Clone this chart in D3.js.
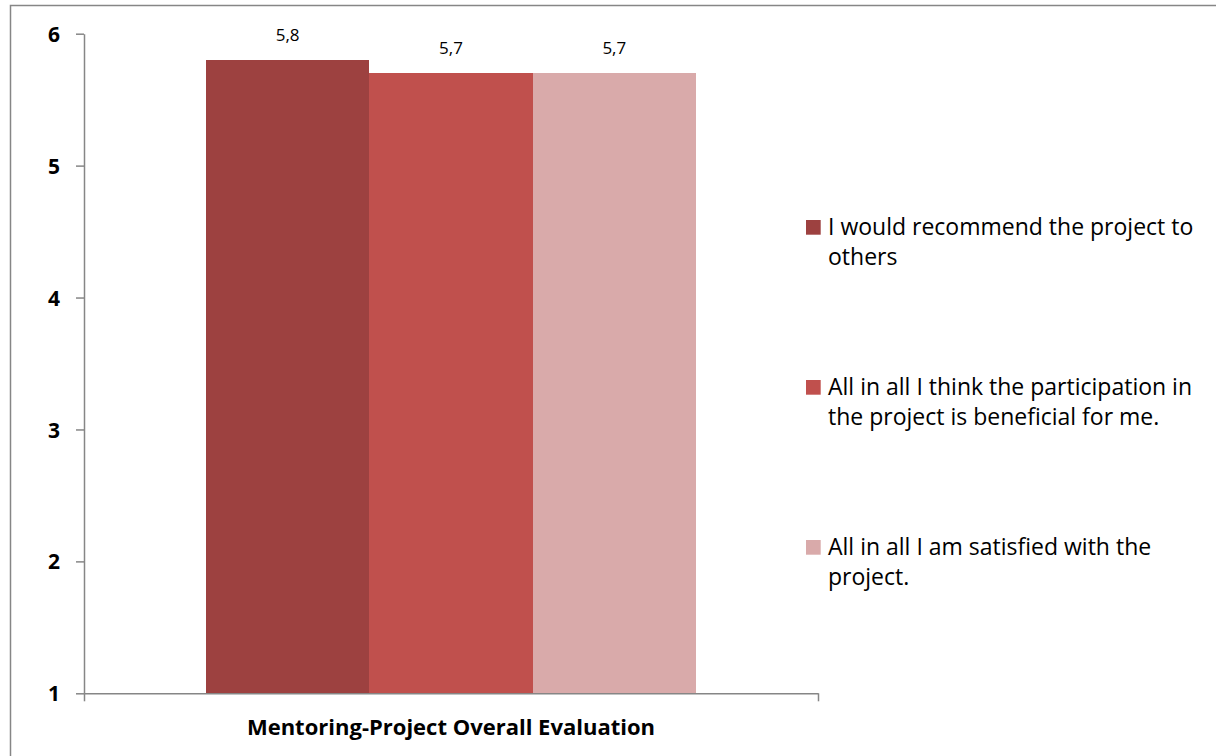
<!DOCTYPE html>
<html>
<head>
<meta charset="utf-8">
<script src="https://cdn.jsdelivr.net/npm/d3@7"></script>
<style>
  html, body { margin: 0; padding: 0; background: #fff; }
  svg { display: block; font-family: "Open Sans", "Noto Sans", sans-serif; }
</style>
</head>
<body>
<svg id="chart" width="1216" height="756"></svg>
<script>
// data
const category = "Mentoring-Project Overall Evaluation";
const seriesNames = [
  "I would recommend the project to others",
  "All in all I think the participation in the project is beneficial for me.",
  "All in all I am satisfied with the project."
];
const seriesValues = [5.8, 5.7, 5.7];
const seriesColors = ["#9D4140", "#C0504D", "#D9AAAA"];
const yTicks = [1, 2, 3, 4, 5, 6];

const svg = d3.select("#chart");
const axisColor = "#868686";

// outer chart border (right and bottom edges fall off the picture)
svg.append("rect")
  .attr("x", 10.5).attr("y", 5.5)
  .attr("width", 1230).attr("height", 770)
  .attr("fill", "none")
  .attr("stroke", axisColor)
  .attr("stroke-width", 1.5);

const plot = { left: 84, right: 818, top: 33.7, bottom: 693.3 };

const y = d3.scaleLinear().domain([1, 6]).range([plot.bottom, plot.top]);
const x0 = d3.scaleBand()
  .domain([category])
  .range([plot.left, plot.right])
  .paddingInner(0)
  .paddingOuter(0.249);
const x1 = d3.scaleBand()
  .domain(d3.range(seriesValues.length))
  .range([0, x0.bandwidth()])
  .padding(0);

// bars
const bars = svg.append("g")
  .attr("transform", `translate(${x0(category)},0)`);

bars.selectAll("rect")
  .data(seriesValues)
  .join("rect")
  .attr("x", (d, i) => Math.round(x0(category) + x1(i)) - x0(category))
  .attr("y", (d) => y(d))
  .attr("width", (d, i) => Math.round(x0(category) + x1(i) + x1.bandwidth()) - Math.round(x0(category) + x1(i)))
  .attr("height", (d) => y(1) - y(d))
  .attr("fill", (d, i) => seriesColors[i])
  .attr("shape-rendering", "crispEdges");

bars.selectAll("text")
  .data(seriesValues)
  .join("text")
  .attr("x", (d, i) => x1(i) + x1.bandwidth() / 2)
  .attr("y", (d) => y(d) - 19)
  .attr("text-anchor", "middle")
  .attr("font-size", 17)
  .attr("fill", "#000")
  .text((d) => d3.format(".1f")(d).replace(".", ","));

// y axis
const yAxis = svg.append("g")
  .attr("transform", `translate(${plot.left},0)`)
  .call(d3.axisLeft(y).tickValues(yTicks).tickSize(8).tickSizeOuter(0).tickPadding(16)
    .tickFormat(d3.format("d")));
yAxis.select(".domain").attr("stroke", axisColor).attr("stroke-width", 1.5);
yAxis.selectAll(".tick line").attr("stroke", axisColor).attr("stroke-width", 1.5);
yAxis.selectAll(".tick text")
  .attr("font-family", "'Open Sans', sans-serif")
  .attr("font-size", 21)
  .attr("font-weight", "bold")
  .attr("fill", "#000")
  .attr("dy", "0.36em");

// x axis: tick marks at the category boundaries
const xEdge = d3.scaleLinear().domain([0, 1]).range([plot.left, plot.right]);
const xAxis = svg.append("g")
  .attr("transform", `translate(0,${plot.bottom})`)
  .call(d3.axisBottom(xEdge).tickValues([0, 1]).tickSize(8).tickSizeOuter(0).tickFormat(""));
xAxis.select(".domain").attr("stroke", axisColor).attr("stroke-width", 1.5);
xAxis.selectAll(".tick line").attr("stroke", axisColor).attr("stroke-width", 1.5);

svg.append("text")
  .attr("x", x0(category) + x0.bandwidth() / 2)
  .attr("y", 735)
  .attr("text-anchor", "middle")
  .attr("font-size", 22)
  .attr("font-weight", "bold")
  .attr("fill", "#000")
  .text(category);

// legend
const legendX = 806;
const legendTop = 220;
const legendStep = 160;
const markerSize = 14.7;
const textX = 828;
const maxLineWidth = 382;
const lineHeight = 30;

const legend = svg.append("g");
seriesNames.forEach((name, i) => {
  const g = legend.append("g")
    .attr("transform", `translate(0,${legendTop + i * legendStep})`);
  g.append("rect")
    .attr("x", legendX)
    .attr("y", 0)
    .attr("width", markerSize)
    .attr("height", markerSize)
    .attr("fill", seriesColors[i]);

  const text = g.append("text")
    .attr("x", textX)
    .attr("y", markerSize)
    .attr("font-size", 23)
    .attr("fill", "#000");

  // word wrap
  const words = name.split(" ");
  let line = [];
  let tspan = text.append("tspan").attr("x", textX).attr("dy", 0);
  words.forEach((w) => {
    line.push(w);
    tspan.text(line.join(" "));
    if (tspan.node().getComputedTextLength() > maxLineWidth && line.length > 1) {
      line.pop();
      tspan.text(line.join(" "));
      line = [w];
      tspan = text.append("tspan").attr("x", textX).attr("dy", lineHeight).text(w);
    }
  });
});
</script>
</body>
</html>
